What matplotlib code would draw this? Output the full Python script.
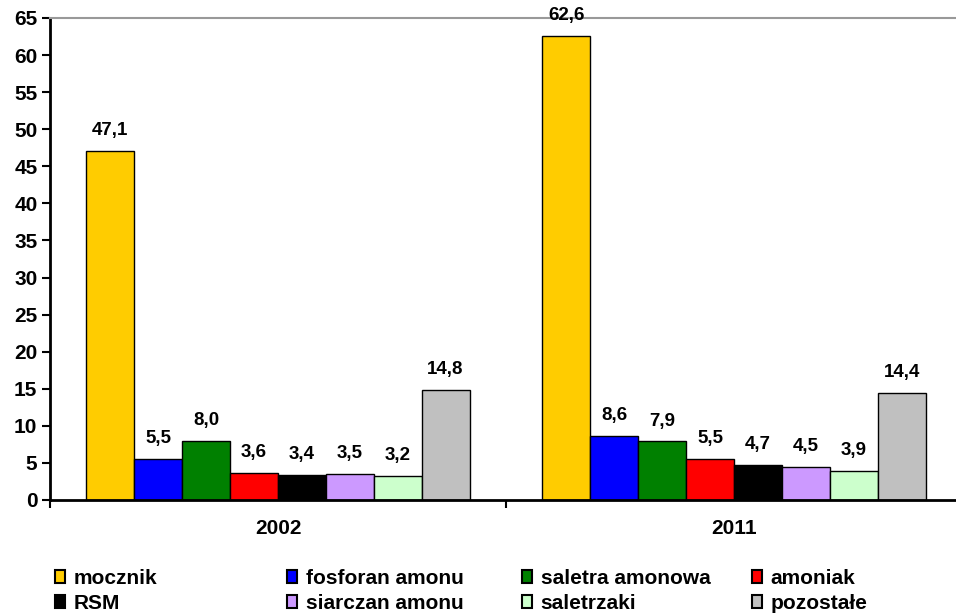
import numpy as np
import matplotlib.pyplot as plt
from matplotlib.patches import Patch

plt.rcParams['font.family'] = ['Liberation Sans', 'DejaVu Sans']
plt.rcParams['font.weight'] = 'bold'

years = ['2002', '2011']
products = ['mocznik', 'fosforan amonu', 'saletra amonowa', 'amoniak',
            'RSM', 'siarczan amonu', 'saletrzaki', 'pozostałe']
values_2002 = [47.1, 5.5, 8.0, 3.6, 3.4, 3.5, 3.2, 14.8]
values_2011 = [62.6, 8.6, 7.9, 5.5, 4.7, 4.5, 3.9, 14.4]
colors = ['#FFCC00', '#0000FF', '#008000', '#FF0000',
          '#000000', '#CC99FF', '#CCFFCC', '#C0C0C0']

fig = plt.figure(figsize=(9.56, 6.14), dpi=100)
ax = fig.add_axes([0.0523, 0.1857, 0.954, 0.785])

data = np.array([values_2002, values_2011])
n = len(products)
group_w = 0.84
w = group_w / n
x = np.arange(len(years))
for i in range(n):
    pos = x - group_w / 2 + w * (i + 0.5)
    bars = ax.bar(pos, data[:, i], width=w, color=colors[i],
                  edgecolor='black', linewidth=1.0)
    for b, v in zip(bars, data[:, i]):
        ax.text(b.get_x() + b.get_width() / 2, v + 2.75,
                f'{v:.1f}'.replace('.', ','), ha='center', va='center',
                fontsize=13.5, fontweight='bold')

ax.set_xlim(-0.5, 1.5)
ax.set_ylim(0, 65)
ax.set_yticks(np.arange(0, 66, 5))
ax.tick_params(axis='y', labelsize=15, length=6, width=1.5, direction='out', pad=3)
ax.set_xticks([-0.5, 0.5, 1.5])
ax.set_xticklabels([])
ax.set_xticks(x, minor=True)
ax.set_xticklabels(years, minor=True)
ax.tick_params(axis='x', which='minor', length=0, labelsize=15, pad=14)
ax.tick_params(axis='x', which='major', length=6, width=1.5, direction='out')
for lab in ax.get_yticklabels() + ax.get_xticklabels(minor=True):
    lab.set_fontweight('bold')

ax.spines['right'].set_visible(False)
ax.spines['top'].set_color('#999999')
ax.spines['top'].set_linewidth(1.5)
ax.spines['left'].set_linewidth(2)
ax.spines['bottom'].set_linewidth(2)

# legend: 4 columns at fixed x positions, 2 rows each
col_x = [55, 287, 522, 752]
for c in range(4):
    idx = [c, c + 4]
    handles = [Patch(facecolor=colors[k], edgecolor='black', linewidth=1.5) for k in idx]
    leg = fig.legend(handles, [products[k] for k in idx], loc='center left',
                     bbox_to_anchor=(col_x[c] / 956, 0.038), frameon=False,
                     handlelength=0.5, handleheight=0.6, handletextpad=0.4,
                     labelspacing=0.3, borderpad=0.0, borderaxespad=0.0,
                     prop={'weight': 'bold', 'size': 15})

fig.savefig('out.png', dpi=100)
